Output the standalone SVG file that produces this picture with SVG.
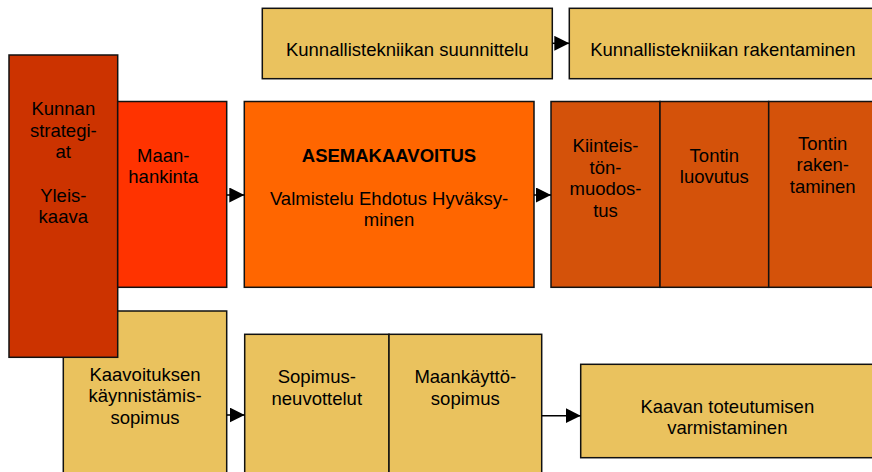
<svg xmlns="http://www.w3.org/2000/svg" width="872" height="472" viewBox="0 0 872 472">
<style>
.b{stroke:#111;stroke-width:1.5}
.y{fill:#EAC25E}
.k{fill:#CC3300}
.m{fill:#FF3300}
.a{fill:#FF6600}
.t{fill:#D4520A}
text{font-family:"Liberation Sans",Arial,sans-serif;font-size:18.5px;fill:#000;text-anchor:middle}
.bold{font-weight:bold}
.c{stroke:#000;stroke-width:1.5;fill:none}
</style>
<defs>
<marker id="ah" markerUnits="userSpaceOnUse" markerWidth="16" markerHeight="16" refX="15" refY="7.5" orient="auto">
<path d="M0,0 L15,7.5 L0,15 z" fill="#000"/>
</marker>
</defs>
<rect width="872" height="472" fill="#fff"/>

<g id="kunnallistekniikan-suunnittelu">
<rect class="b y" x="262.3" y="8.3" width="290" height="70.4"/>
<text x="407.3" y="56">Kunnallistekniikan suunnittelu</text>
</g>
<g id="kunnallistekniikan-rakentaminen">
<rect class="b y" x="569.3" y="8.3" width="310" height="70.4"/>
<text x="722.8" y="56">Kunnallistekniikan rakentaminen</text>
</g>

<g id="kaavoituksen-kaynnistamissopimus">
<rect class="b y" x="63.3" y="311" width="163.4" height="175"/>
<text x="145" y="380.5">Kaavoituksen</text>
<text x="145" y="402">käynnistämis-</text>
<text x="145" y="423.5">sopimus</text>
</g>

<g id="kunnan-strategiat">
<rect class="b k" x="9" y="55" width="108.7" height="302.3"/>
<text x="63.3" y="115">Kunnan</text>
<text x="63.3" y="136.7">strategi-</text>
<text x="63.3" y="158.3">at</text>
<text x="63.3" y="201.7">Yleis-</text>
<text x="63.3" y="223.3">kaava</text>
</g>

<g id="maanhankinta">
<rect class="b m" x="117.7" y="101.5" width="109" height="185.8"/>
<text x="163.3" y="161.5">Maan-</text>
<text x="163.3" y="183">hankinta</text>
</g>

<g id="asemakaavoitus">
<rect class="b a" x="244.3" y="101.5" width="289.7" height="185.8"/>
<text class="bold" x="389" y="161.6">ASEMAKAAVOITUS</text>
<text x="389" y="204.5">Valmistelu Ehdotus Hyväksy-</text>
<text x="389" y="226">minen</text>
</g>

<g id="kiinteistonmuodostus">
<rect class="b t" x="551" y="101.5" width="109" height="185.8"/>
<text x="605.5" y="152">Kiinteis-</text>
<text x="605.5" y="173.5">tön-</text>
<text x="605.5" y="195">muodos-</text>
<text x="605.5" y="216.5">tus</text>
</g>
<g id="tontin-luovutus">
<rect class="b t" x="660" y="101.5" width="108.7" height="185.8"/>
<text x="714.3" y="161.5">Tontin</text>
<text x="714.3" y="183">luovutus</text>
</g>
<g id="tontin-rakentaminen">
<rect class="b t" x="768.7" y="101.5" width="110" height="185.8"/>
<text x="822.7" y="149.5">Tontin</text>
<text x="822.7" y="171">raken-</text>
<text x="822.7" y="192.5">taminen</text>
</g>

<g id="sopimusneuvottelut">
<rect class="b y" x="244.7" y="334.3" width="144.3" height="150"/>
<text x="316.8" y="383.3">Sopimus-</text>
<text x="316.8" y="404.5">neuvottelut</text>
</g>
<g id="maankayttosopimus">
<rect class="b y" x="389" y="334.3" width="152.7" height="150"/>
<text x="465.3" y="383.3">Maankäyttö-</text>
<text x="465.3" y="404.5">sopimus</text>
</g>

<g id="kaavan-toteutumisen-varmistaminen">
<rect class="b y" x="580.7" y="364.3" width="300" height="93.4"/>
<text x="727.3" y="412.7">Kaavan toteutumisen</text>
<text x="727.3" y="434.3">varmistaminen</text>
</g>

<g id="connectors">
<line class="c" x1="552.3" y1="43.3" x2="569.3" y2="43.3" marker-end="url(#ah)"/>
<line class="c" x1="226.7" y1="195" x2="244.3" y2="195" marker-end="url(#ah)"/>
<line class="c" x1="534" y1="195" x2="551" y2="195" marker-end="url(#ah)"/>
<line class="c" x1="226.7" y1="415" x2="244.7" y2="415" marker-end="url(#ah)"/>
<line class="c" x1="541.7" y1="415.7" x2="580.7" y2="415.7" marker-end="url(#ah)"/>
</g>
</svg>
